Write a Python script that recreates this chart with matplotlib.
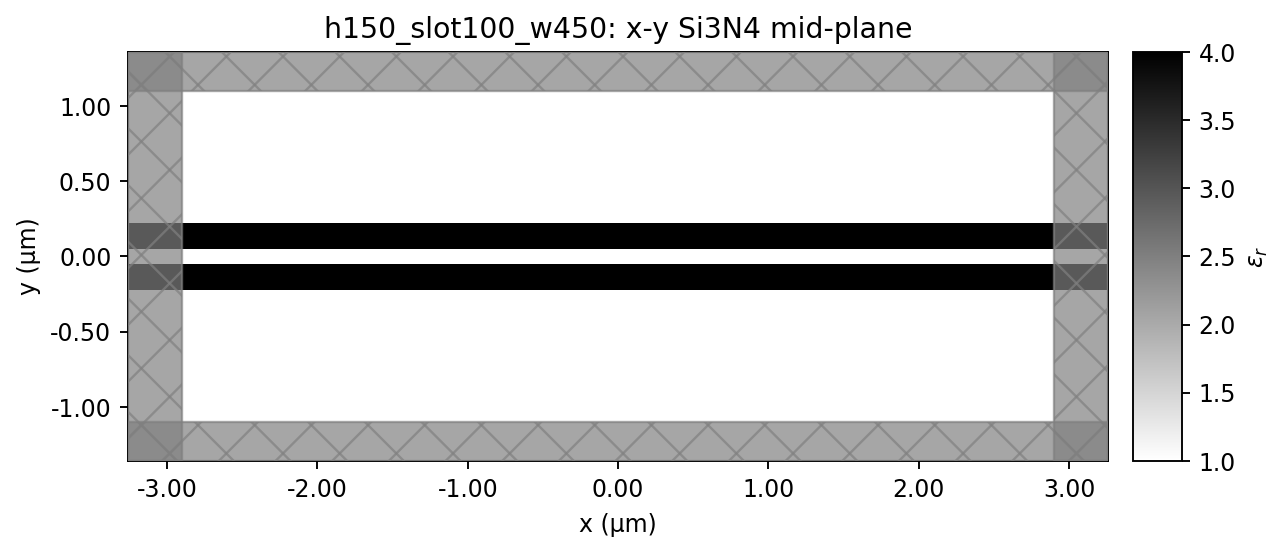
"""
plot.py - x-y mid-plane permittivity slice with PML overlay.
"""

import matplotlib
matplotlib.use("Agg")
import matplotlib.pyplot as plt
from matplotlib.patches import Rectangle
import numpy as np

W_PX, H_PX = 1286, 552
DPI = 170

# permittivity slice: one row per y band
x_edges = [-3.26, 3.26]
y_edges = [-1.36, -0.224, -0.05, 0.05, 0.224, 1.36]
eps_bands = [1.0, 4.0, 1.0, 4.0, 1.0]

pml_x = 2.9
pml_y = 1.1

x_ticks = [-3, -2, -1, 0, 1, 2, 3]
y_ticks = [-1, -0.5, 0, 0.5, 1]
cbar_ticks = [1.0, 1.5, 2.0, 2.5, 3.0, 3.5, 4.0]

# diagonal crosshatch of the PML, in um
hatch_step = 0.377
hatch_rising = -3.935   # x - y
hatch_falling = -1.654  # x + y


def draw_pml(ax, x0, y0, w, h):
    """One PML block: translucent gray with a wide x hatch."""
    rect = Rectangle((x0, y0), w, h, facecolor="gray", edgecolor="gray",
                     linewidth=1.0, alpha=0.7, zorder=3)
    ax.add_patch(rect)
    xs = np.array([x_edges[0], x_edges[1]])
    for k in range(-30, 31):
        up = ax.plot(xs, xs - (hatch_rising + k * hatch_step), color="gray",
                     lw=1.0, alpha=0.7, zorder=4)[0]
        down = ax.plot(xs, (hatch_falling + k * hatch_step) - xs, color="gray",
                       lw=1.0, alpha=0.7, zorder=4)[0]
        up.set_clip_path(rect)
        down.set_clip_path(rect)


fig = plt.figure(figsize=((W_PX + 0.2) / DPI, (H_PX + 0.2) / DPI), dpi=DPI)
ax = fig.add_axes([128 / W_PX, (H_PX - 461) / H_PX, 980 / W_PX, 409 / H_PX])
cax = fig.add_axes([1133 / W_PX, (H_PX - 461) / H_PX, 49 / W_PX, 409 / H_PX])

eps = np.array(eps_bands).reshape(-1, 1)
mesh = ax.pcolormesh(x_edges, y_edges, eps, cmap="gist_yarg", vmin=1, vmax=4)

xmin, xmax = x_edges
ymin, ymax = y_edges[0], y_edges[-1]
draw_pml(ax, xmin, ymin, -pml_x - xmin, ymax - ymin)   # left
draw_pml(ax, pml_x, ymin, xmax - pml_x, ymax - ymin)   # right
draw_pml(ax, xmin, ymin, xmax - xmin, -pml_y - ymin)   # bottom
draw_pml(ax, xmin, pml_y, xmax - xmin, ymax - pml_y)   # top

ax.set_xlim(xmin, xmax)
ax.set_ylim(ymin, ymax)
ax.set_xticks(x_ticks)
ax.set_xticklabels([f"{v:.2f}" for v in x_ticks])
ax.set_yticks(y_ticks)
ax.set_yticklabels([f"{v:.2f}" for v in y_ticks])
ax.set_xlabel("x (µm)", labelpad=4.6)
ax.set_ylabel("y (µm)")
ax.set_title("h150_slot100_w450: x-y Si3N4 mid-plane")

cbar = fig.colorbar(mesh, cax=cax, ticks=cbar_ticks)
cbar.set_label(r"$\varepsilon_r$")

fig.savefig("out.png", dpi=DPI)
plt.close(fig)
